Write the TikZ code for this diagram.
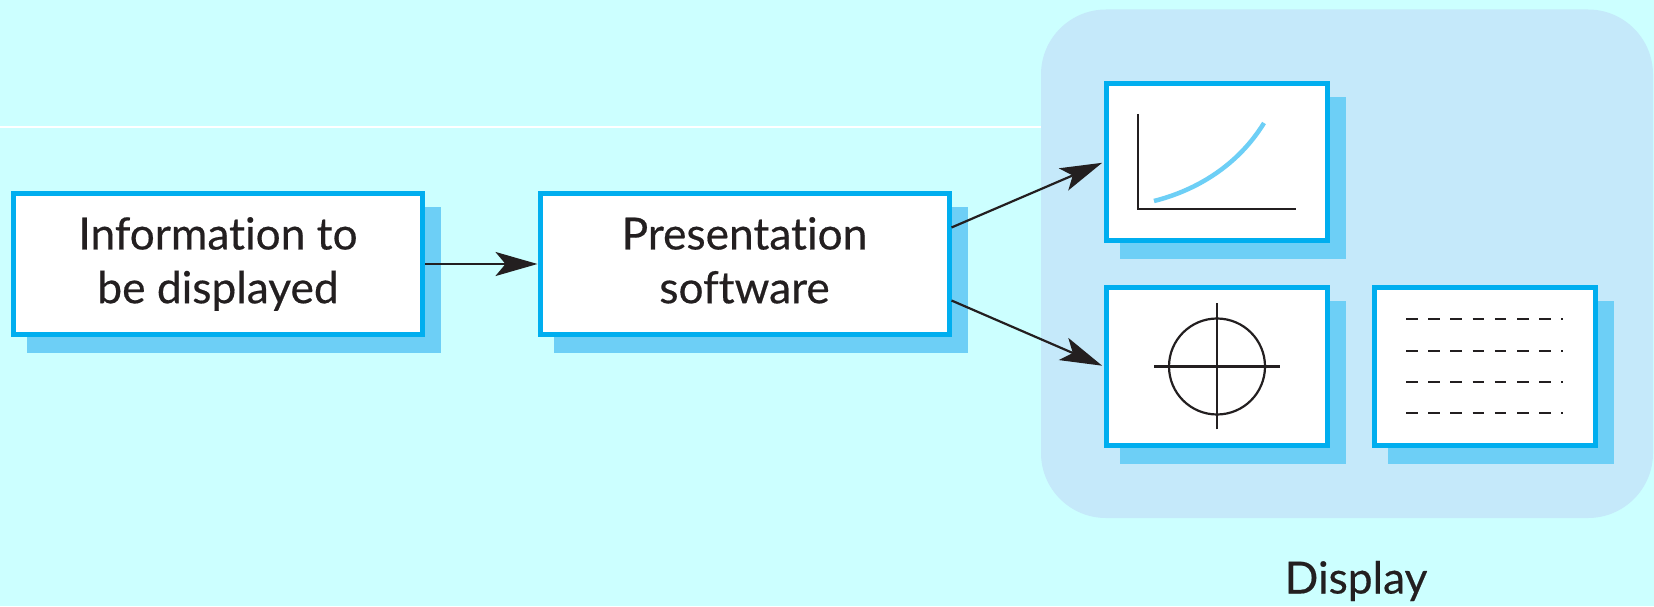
\documentclass[tikz,border=0pt]{standalone}
\usepackage{fontspec}
\setmainfont{Lato}[Ligatures=NoCommon, RawFeature={embolden=0.4}]
\usepackage{xcolor}
\usetikzlibrary{
  positioning,
  arrows.meta,
  shadows
}
\definecolor{pagecyan}{HTML}{CCFFFF}
\definecolor{panelblue}{HTML}{C5E9FA}
\definecolor{edgeblue}{HTML}{00AEEF}
\definecolor{shadeblue}{HTML}{6DCFF6}
\definecolor{inkblack}{HTML}{231F20}
\tikzset{
  boxed/.style={draw=edgeblue, line width=0.05cm, fill=white, align=center,
    text=inkblack, font=\fontsize{12.6}{15.3}\selectfont,
    general shadow={shadow xshift=0.16cm, shadow yshift=-0.16cm, fill=shadeblue, draw=shadeblue}},
  feed/.style={draw=inkblack, line width=0.022cm,
    -{Stealth[length=0.42cm, width=0.24cm, inset=0.1cm]}},
  icon/.style={draw=inkblack, line width=0.022cm}
}

\begin{document}
\begin{tikzpicture}
      % Background
      \fill[pagecyan] (0,0) rectangle (16.54,6.06);
      \useasboundingbox (0,0) rectangle (16.54,6.06);
      \draw[white, line width=0.012cm] (0,4.79) -- (10.41,4.79);

      % Display panel
      \fill[panelblue, rounded corners=0.65cm] (10.41,0.88) rectangle (16.53,5.965);
      \node[text=inkblack, font=\fontsize{12.6}{15}\selectfont] (displaylabel) at (13.56,0.25) {Display};

      % Main boxes
      \node[boxed, minimum width=4.09cm, minimum height=1.41cm] (info) at (2.18,3.42) {Information to\\be displayed};
      \node[boxed, minimum width=4.09cm, minimum height=1.41cm] (software) at (7.445,3.42) {Presentation\\software\vphantom{y}};

      % Screens
      \node[boxed, minimum width=2.21cm, minimum height=1.57cm] (chart) at (12.17,4.44) {};
      \node[boxed, minimum width=2.21cm, minimum height=1.58cm] (dial) at (12.17,2.395) {};
      \node[boxed, minimum width=2.21cm, minimum height=1.58cm] (listing) at (14.845,2.395) {};

      % Connectors
      \draw[feed] (info) -- (software);
      \draw[feed, shorten >=0.02cm] (software.10.5) -- (chart.west);
      \draw[feed, shorten >=0.02cm] (software.-10.5) -- (dial.west);

      % Graph on the first screen
      \draw[icon] (11.38,4.92) -- (11.38,3.97) -- (12.96,3.97);
      \draw[shadeblue, line width=0.045cm] (11.54,4.05) .. controls (11.90,4.14) and (12.35,4.36) .. (12.64,4.83);

      % Dial on the second screen
      \draw[icon] (12.17,2.395) circle (0.48);
      \draw[icon] (11.54,2.395) -- (12.80,2.395);
      \draw[icon] (12.17,1.765) -- (12.17,3.025);

      % Text lines on the third screen
      \foreach \rowy in {2.867,2.553,2.24,1.927} {
        \draw[icon, dash pattern=on 0.116cm off 0.106cm] (14.06,\rowy) -- (15.63,\rowy);
      }
    \end{tikzpicture}
\end{document}
